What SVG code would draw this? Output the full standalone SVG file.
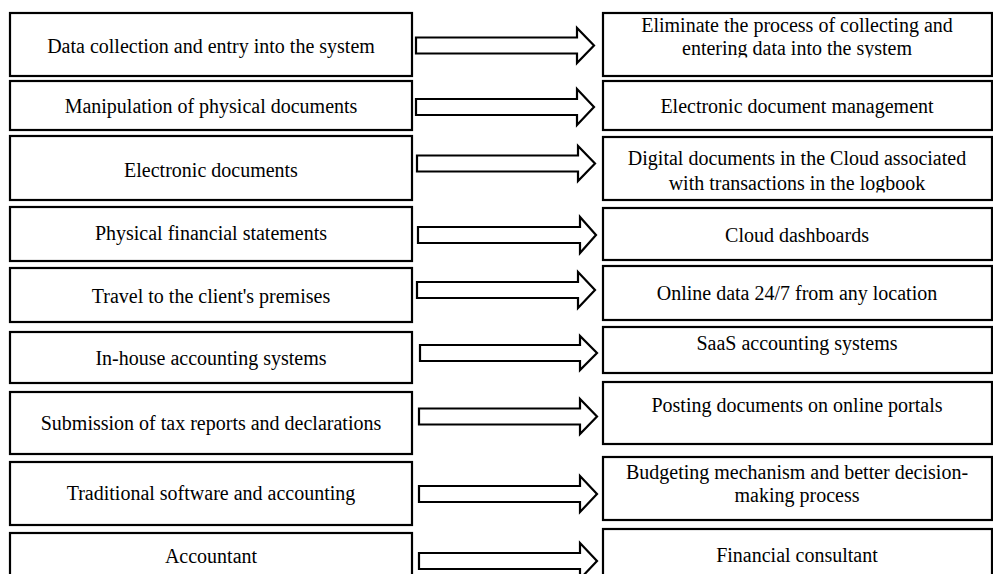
<svg xmlns="http://www.w3.org/2000/svg" width="993" height="574" viewBox="0 0 993 574">
<style>
.box{fill:#fff;stroke:#000;stroke-width:2.2}
.arr{fill:#fff;stroke:#000;stroke-width:2.2;stroke-linejoin:miter}
text{font-family:"Liberation Serif","Times New Roman",serif;font-size:20px;fill:#000;text-anchor:middle}
</style>
<defs>
<clipPath id="c1"><rect x="603" y="13" width="389" height="44.5"/></clipPath>
<clipPath id="c3"><rect x="603" y="137" width="389" height="55.5"/></clipPath>
<clipPath id="c8"><rect x="603" y="457" width="389" height="52"/></clipPath>
</defs>
<rect width="993" height="574" fill="#fff"/>
<g id="left">
<g id="l1"><rect class="box" x="10" y="13" width="402" height="63"/><text x="211" y="53">Data collection and entry into the system</text></g>
<g id="l2"><rect class="box" x="10" y="81" width="402" height="49"/><text x="211" y="112.5">Manipulation of physical documents</text></g>
<g id="l3"><rect class="box" x="10" y="136" width="402" height="64"/><text x="211" y="176.5">Electronic documents</text></g>
<g id="l4"><rect class="box" x="10" y="207" width="402" height="54"/><text x="211" y="240">Physical financial statements</text></g>
<g id="l5"><rect class="box" x="10" y="268" width="402" height="54"/><text x="211" y="302.5">Travel to the client's premises</text></g>
<g id="l6"><rect class="box" x="10" y="332" width="402" height="51"/><text x="211" y="365">In-house accounting systems</text></g>
<g id="l7"><rect class="box" x="10" y="392" width="402" height="62"/><text x="211" y="430">Submission of tax reports and declarations</text></g>
<g id="l8"><rect class="box" x="10" y="462" width="402" height="63"/><text x="211" y="500">Traditional software and accounting</text></g>
<g id="l9"><rect class="box" x="10" y="533" width="402" height="60"/><text x="211" y="562.5">Accountant</text></g>
</g>
<g id="right">
<g id="r1"><rect class="box" x="603" y="13" width="389" height="63"/><text x="797" y="32" clip-path="url(#c1)"><tspan x="797" y="32">Eliminate the process of collecting and</tspan><tspan x="797" y="55">entering data into the system</tspan></text></g>
<g id="r2"><rect class="box" x="603" y="81" width="389" height="49"/><text x="797" y="112.5">Electronic document management</text></g>
<g id="r3"><rect class="box" x="603" y="137" width="389" height="63"/><text x="797" y="165" clip-path="url(#c3)"><tspan x="797" y="165">Digital documents in the Cloud associated</tspan><tspan x="797" y="190">with transactions in the logbook</tspan></text></g>
<g id="r4"><rect class="box" x="603" y="208" width="389" height="52"/><text x="797" y="241.5">Cloud dashboards</text></g>
<g id="r5"><rect class="box" x="603" y="266" width="389" height="54"/><text x="797" y="300">Online data 24/7 from any location</text></g>
<g id="r6"><rect class="box" x="603" y="327" width="389" height="46"/><text x="797" y="350">SaaS accounting systems</text></g>
<g id="r7"><rect class="box" x="603" y="382" width="389" height="62"/><text x="797" y="411.5">Posting documents on online portals</text></g>
<g id="r8"><rect class="box" x="603" y="457" width="389" height="63"/><text x="797" y="478.5" clip-path="url(#c8)"><tspan x="797" y="478.5">Budgeting mechanism and better decision-</tspan><tspan x="797" y="501.5">making process</tspan></text></g>
<g id="r9"><rect class="box" x="603" y="529" width="389" height="60"/><text x="797" y="561.5">Financial consultant</text></g>
</g>
<g id="connectors">
<path class="arr" d="M416 37.5H577V28L594 45.5L577 63V53.5H416Z"/>
<path class="arr" d="M416 99H577V89L594 107L577 125V115H416Z"/>
<path class="arr" d="M417 155.5H578V146L595 163.5L578 181V171.5H417Z"/>
<path class="arr" d="M418 227H580V217L596 235L580 253V243H418Z"/>
<path class="arr" d="M417 282H578V272L595 290L578 308V298H417Z"/>
<path class="arr" d="M420 345H580V336L597 353L580 370V361H420Z"/>
<path class="arr" d="M419 408.5H580V399L597 416.5L580 434V424.5H419Z"/>
<path class="arr" d="M419 486H580V476L597 494L580 512V502H419Z"/>
<path class="arr" d="M419 553H580V543L597 561L580 579V569H419Z"/>
</g>
</svg>
